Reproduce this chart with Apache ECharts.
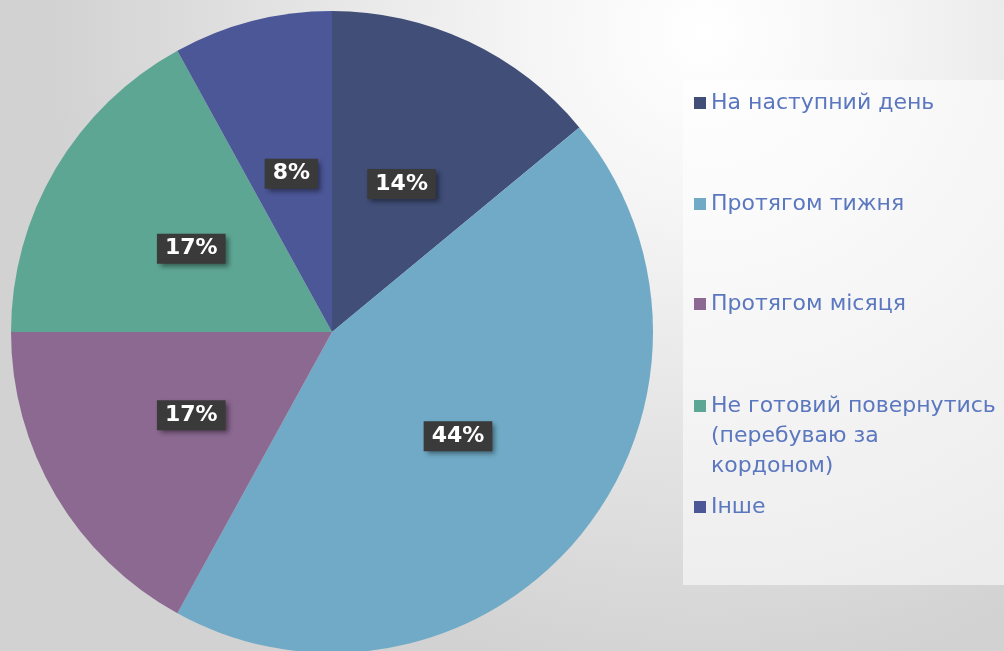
<!DOCTYPE html>
<html>
<head>
<meta charset="utf-8">
<script src="https://cdn.jsdelivr.net/npm/echarts@6/dist/echarts.min.js"></script>
<style>
  html, body { margin: 0; padding: 0; }
  #chart { width: 1004px; height: 651px; }
</style>
</head>
<body>
<div id="chart"></div>
<script>
// categories and values
var categories = ['На наступний день', 'Протягом тижня', 'Протягом місяця', 'Не готовий повернутись\n(перебуваю за\nкордоном)', 'Інше'];
var values = [14, 44, 17, 17, 8];
var colors = ['#404E78', '#70AAC6', '#8B6991', '#5EA694', '#4C5798'];
// vertical centre of the first line of each legend entry
var legendY = [103, 204, 304, 406, 507];

var chart = echarts.init(document.getElementById('chart'));

// one legend per entry so each can sit where it does in the picture
var legends = categories.map(function (name, i) {
  var lines = name.split('\n').length;
  return {
    data: [name],
    left: 694,
    // block is centred on the marker, so pad with empty lines above
    top: legendY[i] - 15 - (lines - 1) * 30,
    padding: 0,
    itemWidth: 12,
    itemHeight: 12,
    itemGap: 0,
    icon: 'rect',
    selectedMode: false,
    formatter: function (n) {
      var extra = n.split('\n').length - 1;
      var pre = '';
      for (var k = 0; k < extra; k++) pre += '\u00a0\n';
      return pre + n;
    },
    textStyle: {
      fontFamily: 'DejaVu Sans',
      fontSize: 22,
      color: '#5B77BF',
      lineHeight: 30
    }
  };
});

var option = {
  backgroundColor: {
    type: 'radial',
    x: 0.7, y: 0.05, r: 1.0,
    colorStops: [
      { offset: 0, color: '#ffffff' },
      { offset: 0.25, color: '#f6f6f6' },
      { offset: 1, color: '#d2d2d2' }
    ]
  },
  color: colors,
  animation: false,
  graphic: [{
    type: 'rect',
    z: -1,
    shape: { x: 683, y: 80, width: 321, height: 505 },
    style: { fill: 'rgba(255,255,255,0.55)' }
  }],
  legend: legends,
  series: [{
    type: 'pie',
    center: [332, 332],
    radius: 321,
    startAngle: 90,
    clockwise: true,
    data: categories.map(function (name, i) {
      return { name: name, value: values[i] };
    }),
    label: {
      show: true,
      position: 'inside',
      formatter: '{d}%',
      color: '#fff',
      fontFamily: 'DejaVu Sans',
      fontWeight: 'bold',
      fontSize: 22,
      backgroundColor: '#3a3a3a',
      padding: [5, 8, 3, 8],
      shadowBlur: 5,
      shadowOffsetX: 3,
      shadowOffsetY: 3,
      shadowColor: 'rgba(0,0,0,0.45)'
    },
    labelLine: { show: false },
    emphasis: { disabled: true }
  }]
};

chart.setOption(option);
window.onresize = chart.resize;
</script>
</body>
</html>
